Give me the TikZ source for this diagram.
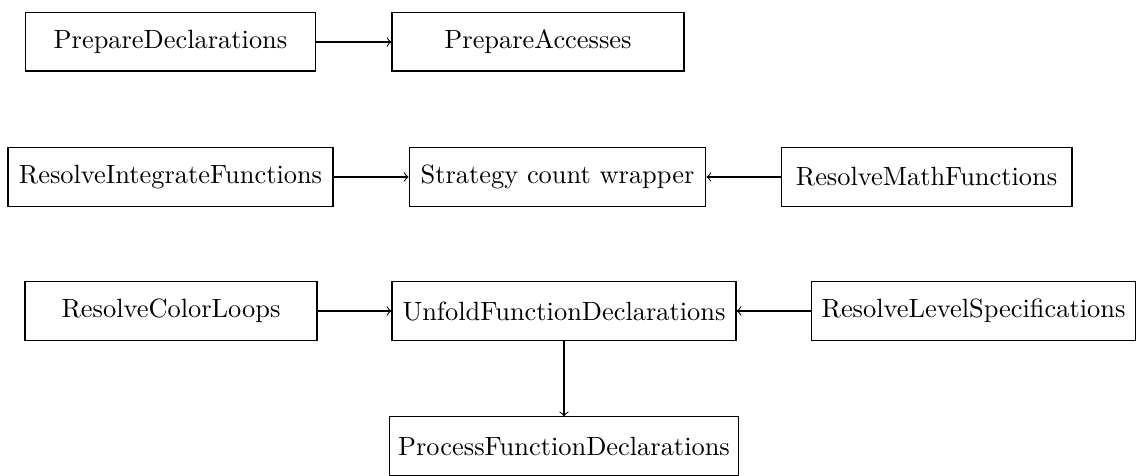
\documentclass[tikz,border=0pt]{standalone}
\begin{document}
\begin{tikzpicture}[x=0.3788pt,y=-0.3788pt,
  pass/.style={draw, line width=0.4pt, minimum height=22pt, inner sep=3.33pt, font=\normalsize},
  flow/.style={->, line width=0.4pt}]
\useasboundingbox (0,0) rectangle (1139,476);
% top row
\node[pass, minimum width=110.2pt] (pd) at (170.5,42) {PrepareDeclarations};
\node[pass, minimum width=110.6pt] (pa) at (538,42) {PrepareAccesses};
% middle row
\node[pass, minimum width=123.1pt] (rif) at (170.5,177) {ResolveIntegrateFunctions};
\node[pass, minimum width=112.4pt] (scw) at (557.5,177) {Strategy count wrapper};
\node[pass, minimum width=110.2pt] (rmf) at (926.5,177) {ResolveMathFunctions};
% bottom rows
\node[pass, minimum width=110.6pt] (rcl) at (171,311) {ResolveColorLoops};
\node[pass, minimum width=130.3pt] (ufd) at (564,311) {UnfoldFunctionDeclarations};
\node[pass, minimum width=122.4pt] (rls) at (973.5,311) {ResolveLevelSpecifications};
\node[pass, minimum width=130.3pt] (pfd) at (564,446) {ProcessFunctionDeclarations};
% dependencies
\draw[flow] (pd) -- (pa);
\draw[flow] (rif) -- (scw);
\draw[flow] (rmf) -- (scw);
\draw[flow] (rcl) -- (ufd);
\draw[flow] (rls) -- (ufd);
\draw[flow] (ufd) -- (pfd);
\end{tikzpicture}
\end{document}
